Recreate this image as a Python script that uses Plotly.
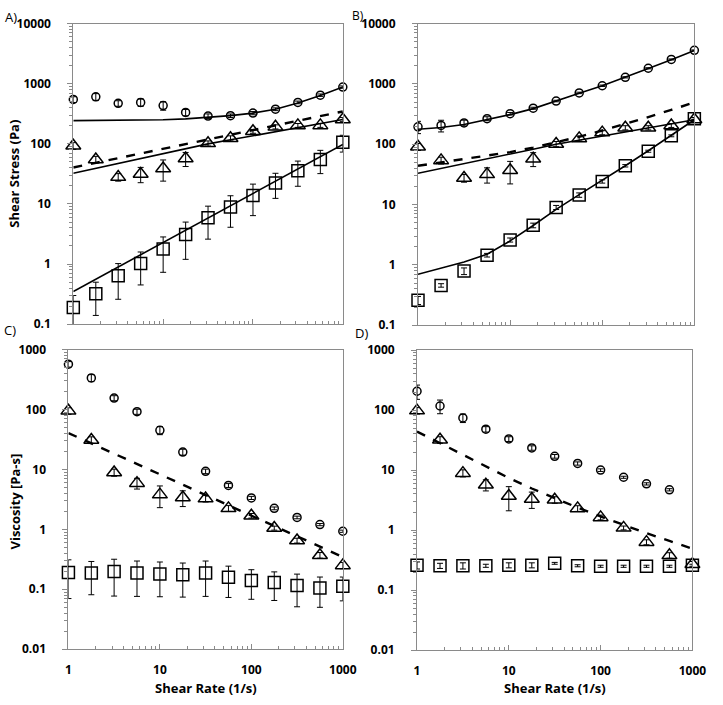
import plotly.graph_objects as go

# ---------------- data ----------------
rate = [1, 1.78, 3.16, 5.62, 10, 17.8, 31.6, 56.2, 100, 178, 316, 562, 1000]

# Panel A (shear stress, Pa)
a_circ = [548, 605, 472, 490, 433, 333, 290, 294, 325, 377, 490, 646, 880]
a_circ_err = [60, 80, 50, 70, 70, 40, 25, 20, 20, 20, 25, 30, 40]
a_circ_fit = [244, 245, 246, 248, 252, 260, 278, 295, 325, 377, 480, 640, 880]
a_tri = [93, 55, 28, 31.6, 39, 57, 102, 124, 162, 192, 203, 203, 254]
a_tri_err = [12, 7, 4, 9, 15, 15, 10, 12, 12, 15, 15, 15, 20]
a_tri_fit = [32.5, 39.2, 47.2, 57.0, 68.7, 82.8, 100, 116.8, 136.5, 159.4, 186.2, 217.5, 254]
a_dash = [40.5, 48.4, 57.9, 69.2, 82.8, 99.0, 118.5, 141.6, 169.4, 202.6, 242.3, 289.7, 346]
a_sq = [0.19, 0.32, 0.64, 1.02, 1.78, 3.1, 5.9, 8.9, 13.9, 22.4, 35.7, 55, 106]
a_sq_err = [0.11, 0.18, 0.38, 0.57, 1.05, 1.9, 3.3, 4.8, 7.5, 10, 16, 23, 33]
a_sq_fit = [0.35, 0.56, 0.90, 1.43, 2.29, 3.67, 5.87, 9.4, 15.0, 24.0, 38.4, 61.5, 98]

# Panel B (shear stress, Pa)
b_circ = [195, 205, 226, 266, 321, 396, 521, 710, 934, 1288, 1820, 2547, 3605]
b_circ_err = [45, 45, 25, 20, 15, 15, 15, 20, 25, 30, 40, 50, 60]
b_circ_fit = [177, 190, 213, 255, 310, 390, 515, 700, 930, 1280, 1800, 2520, 3600]
b_tri = [91, 54, 27.5, 31.7, 37, 57.6, 101, 125, 156, 188, 188, 205, 257]
b_tri_err = [12, 7, 4, 9, 15, 15, 10, 12, 12, 15, 15, 15, 20]
b_tri_fit = [33, 39.5, 47.5, 57.2, 68.8, 82.8, 100, 116.8, 136.5, 159.4, 186.2, 217.5, 255]
b_dash = [43.9, 50, 57.5, 65, 74, 88, 107, 133, 169, 216, 282, 372, 494]
b_sq = [0.26, 0.457, 0.79, 1.45, 2.59, 4.52, 8.97, 14.4, 24.2, 44, 76.7, 138, 266]
b_sq_err = [0.04, 0.03, 0.1, 0.1, 0.2, 0.4, 0.7, 1.2, 1.5, 2, 3, 5, 10]
b_sq_fit = [0.70, 0.88, 1.12, 1.5, 2.5, 4.5, 8.3, 14.6, 25, 44, 78, 140, 255]

# Panel C (viscosity, Pa-s)
c_circ = [570, 337, 155, 92, 45, 19.5, 9.3, 5.4, 3.35, 2.24, 1.58, 1.2, 0.93]
c_circ_err = [60, 45, 15, 9, 7, 2.2, 0.8, 0.4, 0.2, 0.12, 0.08, 0.05, 0.04]
c_tri = [95, 31, 8.9, 5.9, 3.8, 3.4, 3.26, 2.24, 1.69, 1.05, 0.65, 0.37, 0.25]
c_tri_err = [12, 4, 1.2, 1.2, 1.5, 1.0, 0.4, 0.25, 0.15, 0.08, 0.06, 0.04, 0.03]
c_dash = [40.5, 27.2, 18.3, 12.3, 8.28, 5.56, 3.75, 2.52, 1.69, 1.14, 0.767, 0.515, 0.346]
c_sq = [0.19, 0.186, 0.197, 0.186, 0.18, 0.174, 0.186, 0.158, 0.14, 0.13, 0.115, 0.105, 0.112]
c_sq_err = [0.12, 0.105, 0.12, 0.11, 0.105, 0.1, 0.11, 0.085, 0.072, 0.065, 0.064, 0.055, 0.048]

# Panel D (viscosity, Pa-s)
d_rate_circ = [1, 1.78, 3.16, 5.62, 10, 17.8, 31.6, 56.2, 100, 178, 316, 562]
d_circ = [206, 117, 74, 48, 33, 23.4, 17, 12.9, 10, 7.6, 5.9, 4.7]
d_circ_err = [55, 30, 12, 5, 3, 2, 1.2, 0.8, 0.5, 0.3, 0.25, 0.2]
d_tri = [98, 32, 8.9, 5.7, 3.7, 3.3, 3.2, 2.3, 1.63, 1.09, 0.63, 0.38, 0.27]
d_tri_err = [12, 4, 1.2, 1.2, 1.6, 1.0, 0.4, 0.25, 0.15, 0.08, 0.06, 0.04, 0.03]
d_dash = [43.9, 28.1, 18.2, 11.6, 7.4, 4.94, 3.39, 2.37, 1.69, 1.21, 0.89, 0.66, 0.49]
d_sq = [0.26, 0.255, 0.255, 0.255, 0.26, 0.26, 0.28, 0.255, 0.25, 0.25, 0.25, 0.25, 0.26]
d_sq_err = [0.035, 0.025, 0.03, 0.015, 0.025, 0.025, 0.01, 0.01, 0.01, 0.01, 0.01, 0.01, 0.01]

# ---------------- figure ----------------
W, H = 723, 705
GREY = "#8a8a8a"
FONT = "Open Sans"

fig = go.Figure()


def pts(x, y, err, symbol, size, ax):
    fig.add_trace(go.Scatter(
        x=x, y=y, mode="markers", xaxis="x" + ax, yaxis="y" + ax,
        cliponaxis=False,
        marker=dict(symbol=symbol, size=size, color="black", line=dict(width=1.5, color="black")),
        error_y=dict(type="data", array=err, visible=True, thickness=1, width=3, color="black"),
        showlegend=False, hoverinfo="x+y"))


def line(x, y, ax, dash="solid", width=1.6):
    fig.add_trace(go.Scatter(
        x=x, y=y, mode="lines", xaxis="x" + ax, yaxis="y" + ax,
        line=dict(color="black", width=width, dash=dash),
        showlegend=False, hoverinfo="skip"))


# Panel A
line(rate, a_circ_fit, "")
line(rate, a_tri_fit, "")
line(rate, a_dash, "", dash="dash", width=2.4)
line(rate, a_sq_fit, "")
pts(rate, a_circ, a_circ_err, "circle-open", 8, "")
pts(rate, a_tri, a_tri_err, "triangle-up-open", 13, "")
pts(rate, a_sq, a_sq_err, "square-open", 12, "")

# Panel B
line(rate, b_circ_fit, "2")
line(rate, b_tri_fit, "2")
line(rate, b_dash, "2", dash="dash", width=2.4)
line(rate, b_sq_fit, "2")
pts(rate, b_circ, b_circ_err, "circle-open", 8, "2")
pts(rate, b_tri, b_tri_err, "triangle-up-open", 13, "2")
pts(rate, b_sq, b_sq_err, "square-open", 12, "2")

# Panel C
line(rate, c_dash, "3", dash="dash", width=2.4)
pts(rate, c_circ, c_circ_err, "circle-open", 8, "3")
pts(rate, c_tri, c_tri_err, "triangle-up-open", 13, "3")
pts(rate, c_sq, c_sq_err, "square-open", 12, "3")

# Panel D
line(rate, d_dash, "4", dash="dash", width=2.4)
pts(d_rate_circ, d_circ, d_circ_err, "circle-open", 8, "4")
pts(rate, d_tri, d_tri_err, "triangle-up-open", 13, "4")
pts(rate, d_sq, d_sq_err, "square-open", 12, "4")

tickfont = dict(family=FONT, size=12, color="black", weight=700)


def xax(x0, x1, anchor, labels):
    return dict(type="log", range=[0, 3], domain=[x0 / W, x1 / W], anchor=anchor,
                showline=True, linecolor=GREY, linewidth=1, mirror=True,
                ticks="inside", ticklen=5, tickcolor=GREY, dtick=1, tickformat="~g",
                showticklabels=labels, tickfont=tickfont, ticklabelstandoff=9,
                showgrid=False, zeroline=False,
                minor=dict(ticks="inside", ticklen=3, tickcolor=GREY, dtick="D1", showgrid=False))


def yax(top, bot, rng, anchor):
    return dict(type="log", range=rng, domain=[1 - bot / H, 1 - top / H], anchor=anchor,
                showline=True, linecolor=GREY, linewidth=1, mirror=True,
                ticks="outside", ticklen=5, tickcolor=GREY, dtick=1, tickformat="~g",
                tickfont=tickfont, ticklabelstandoff=14,
                showgrid=False, zeroline=False,
                minor=dict(ticks="outside", ticklen=3, tickcolor=GREY, dtick="D1", showgrid=False))


fig.update_layout(
    width=W, height=H, margin=dict(l=0, r=0, t=0, b=0),
    paper_bgcolor="white", plot_bgcolor="white", showlegend=False,
    xaxis=xax(72, 348, "y", False), yaxis=yax(15, 323, [-1, 4], "x"),
    xaxis2=xax(425, 708, "y2", False), yaxis2=yax(15, 324, [-1, 4], "x2"),
    xaxis3=xax(67, 348, "y3", True), yaxis3=yax(349, 656, [-2, 3], "x3"),
    xaxis4=xax(424, 706, "y4", True), yaxis4=yax(349.5, 657, [-2, 3], "x4"),
)

ann = []


def text(t, x, y, size, bold, angle=0):
    ann.append(dict(text=t, x=x / W, y=1 - y / H, xref="paper", yref="paper",
                    showarrow=False, textangle=angle, xanchor="center", yanchor="middle",
                    font=dict(family=FONT, size=size, color="black",
                              weight=700 if bold else 400)))


text("A)", 8, 8, 13, False)
text("B)", 364, 7, 12, False)
text("C)", 7, 329, 13, False)
text("D)", 367, 332, 13, False)
text("Shear Stress (Pa)", 11, 169, 13, True, -90)
text("Viscosity [Pa-s]", 12, 505, 13, True, -90)
text("Shear Rate (1/s)", 207.5, 696, 13, True)
text("Shear Rate (1/s)", 565, 696, 13, True)
fig.update_layout(annotations=ann)

# remove the browser's default 8px page margin so the figure fills the window
fig.write_html("out.html", config={"displayModeBar": False},
               post_script="document.body.style.margin='0px';")
